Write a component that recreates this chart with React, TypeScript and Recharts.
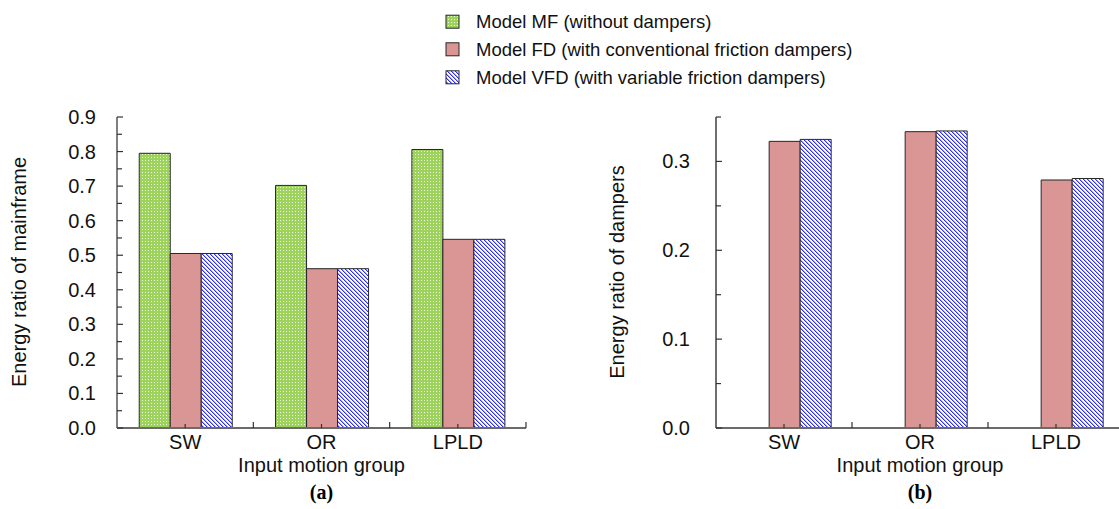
import React from 'react';
import { BarChart, Bar, XAxis, YAxis } from 'recharts';

// Input motion groups
const groups = ['SW', 'OR', 'LPLD'];

// Energy ratio of mainframe (a)
const mainframeMF = [0.795, 0.702, 0.806];
const mainframeFD = [0.505, 0.461, 0.546];
const mainframeVFD = [0.505, 0.461, 0.546];

// Energy ratio of dampers (b) – the bare frame has no dampers
const dampersMF = [0, 0, 0];
const dampersFD = [0.3226, 0.3335, 0.2791];
const dampersVFD = [0.3248, 0.3343, 0.2808];

const mainframeTicks = [0, 0.05, 0.1, 0.15, 0.2, 0.25, 0.3, 0.35, 0.4, 0.45, 0.5, 0.55, 0.6, 0.65, 0.7, 0.75, 0.8, 0.85, 0.9];
const dampersTicks = [0, 0.05, 0.1, 0.15, 0.2, 0.25, 0.3, 0.35];

const seriesNames = [
  'Model MF (without dampers)',
  'Model FD (with conventional friction dampers)',
  'Model VFD (with variable friction dampers)',
];
const seriesFills = ['url(#dotsGreen)', '#d99694', 'url(#hatchBlue)'];

const mainframeData = groups.map((g, i) => ({
  group: g,
  MF: mainframeMF[i],
  FD: mainframeFD[i],
  VFD: mainframeVFD[i],
}));

const dampersData = groups.map((g, i) => ({
  group: g,
  MF: dampersMF[i],
  FD: dampersFD[i],
  VFD: dampersVFD[i],
}));

const FONT = '"Liberation Sans", Arial, sans-serif';

const YTick = (props: any) => {
  const { x, y, payload, labelGap } = props;
  const major = Math.round(payload.value * 100) % 10 === 0;
  return (
    <g>
      <line x1={x} x2={x + (major ? 6 : 5)} y1={y} y2={y} stroke="#333" strokeWidth={1.2} />
      {major && (
        <text x={x - labelGap} y={y + 7} textAnchor="end" fontSize={20} fill="#111" fontFamily={FONT}>
          {payload.value.toFixed(1)}
        </text>
      )}
    </g>
  );
};

const XTick = (props: any) => {
  const { x, y, payload, band } = props;
  return (
    <g>
      <line x1={x} x2={x} y1={y} y2={y - 4} stroke="#333" strokeWidth={1.2} />
      <line x1={x + band / 2} x2={x + band / 2} y1={y} y2={y - 6} stroke="#333" strokeWidth={1.2} />
      <text x={x} y={y + 21} textAnchor="middle" fontSize={20} fill="#111" fontFamily={FONT}>
        {payload.value}
      </text>
    </g>
  );
};

// pixel-built fills: white-dotted green and "\" blue hatching
const Patterns = () => (
  <svg width={0} height={0} style={{ position: 'absolute' }}>
    <defs>
      <pattern id="dotsGreen" patternUnits="userSpaceOnUse" width={3} height={3}>
        <rect width={3} height={3} fill="#9dd35d" shapeRendering="crispEdges" />
        <rect x={1} y={1} width={1} height={1} fill="#f0fae6" shapeRendering="crispEdges" />
      </pattern>
      <pattern id="hatchBlue" patternUnits="userSpaceOnUse" width={4} height={4}>
        <rect width={4} height={4} fill="#ffffff" shapeRendering="crispEdges" />
        <path
          d="M1,0h1v1h-1z M2,1h1v1h-1z M3,2h1v1h-1z M0,3h1v1h-1z"
          fill="#a9a9f7"
          shapeRendering="crispEdges"
        />
        <path
          d="M0,0h1v1h-1z M1,1h1v1h-1z M2,2h1v1h-1z M3,3h1v1h-1z"
          fill="#2f2ff0"
          shapeRendering="crispEdges"
        />
      </pattern>
    </defs>
  </svg>
);

const renderBars = () =>
  ['MF', 'FD', 'VFD'].map((key, i) => (
    <Bar
      key={key}
      dataKey={key}
      name={seriesNames[i]}
      fill={seriesFills[i]}
      stroke="#262626"
      strokeWidth={1}
      isAnimationActive={false}
    />
  ));

export default function App() {
  const leftBand = 409 / 3;
  const rightBand = 408 / 3;
  const legendRows = [21.7, 49.3, 77.3];

  return (
    <div
      style={{
        position: 'absolute',
        left: 0,
        top: 0,
        width: 1119,
        height: 509,
        overflow: 'hidden',
        background: '#fff',
        fontFamily: FONT,
      }}
    >
      <Patterns />

      <div style={{ position: 'absolute', left: 0, top: 0 }}>
        <BarChart
          width={560}
          height={509}
          data={mainframeData}
          margin={{ top: 117, right: 34, bottom: 80, left: 116 }}
          barCategoryGap="16.3%"
          barGap={0}
        >
          <XAxis
            dataKey="group"
            height={1}
            tickSize={0}
            tickMargin={0}
            axisLine={{ stroke: '#6b6b6b', strokeWidth: 2 }}
            tickLine={false}
            tick={<XTick band={leftBand} />}
            interval={0}
          />
          <YAxis
            width={1}
            domain={[0, 0.9]}
            ticks={mainframeTicks}
            interval={0}
            tickSize={0}
            tickMargin={0}
            axisLine={{ stroke: '#555', strokeWidth: 1.5 }}
            tickLine={false}
            tick={<YTick labelGap={21} />}
            allowDataOverflow
          />
          {renderBars()}
        </BarChart>
      </div>

      <div style={{ position: 'absolute', left: 560, top: 0 }}>
        <BarChart
          width={600}
          height={509}
          data={dampersData}
          margin={{ top: 117, right: 36, bottom: 80, left: 155 }}
          barCategoryGap="16.3%"
          barGap={0}
        >
          <XAxis
            dataKey="group"
            height={1}
            tickSize={0}
            tickMargin={0}
            axisLine={{ stroke: '#6b6b6b', strokeWidth: 2 }}
            tickLine={false}
            tick={<XTick band={rightBand} />}
            interval={0}
          />
          <YAxis
            width={1}
            domain={[0, 0.35]}
            ticks={dampersTicks}
            interval={0}
            tickSize={0}
            tickMargin={0}
            axisLine={{ stroke: '#222', strokeWidth: 1.3 }}
            tickLine={false}
            tick={<YTick labelGap={26} />}
            allowDataOverflow
          />
          {renderBars()}
        </BarChart>
      </div>

      {/* titles, captions and the shared legend */}
      <svg
        width={1119}
        height={509}
        style={{ position: 'absolute', left: 0, top: 0, pointerEvents: 'none' }}
        fontFamily={FONT}
      >
        <text transform="translate(26,272) rotate(-90)" textAnchor="middle" fontSize={20} fill="#111">
          Energy ratio of mainframe
        </text>
        <text transform="translate(624,272) rotate(-90)" textAnchor="middle" fontSize={20} fill="#111">
          Energy ratio of dampers
        </text>
        <text x={321.5} y={471.5} textAnchor="middle" fontSize={20} fill="#111">
          Input motion group
        </text>
        <text x={920} y={471.5} textAnchor="middle" fontSize={20} fill="#111">
          Input motion group
        </text>
        <text x={321.5} y={499} textAnchor="middle" fontSize={20} fontWeight="bold" fontFamily='"Liberation Serif", "Times New Roman", serif' fill="#000">
          (a)
        </text>
        <text x={920} y={499} textAnchor="middle" fontSize={20} fontWeight="bold" fontFamily='"Liberation Serif", "Times New Roman", serif' fill="#000">
          (b)
        </text>

        {seriesNames.map((name, i) => (
          <g key={name}>
            <rect x={446} y={legendRows[i] - 6.5} width={13} height={13} fill={seriesFills[i]} stroke="#262626" strokeWidth={1} />
            <text x={476} y={legendRows[i] + 6.6} fontSize={18.5} fill="#111">
              {name}
            </text>
          </g>
        ))}
      </svg>
    </div>
  );
}
